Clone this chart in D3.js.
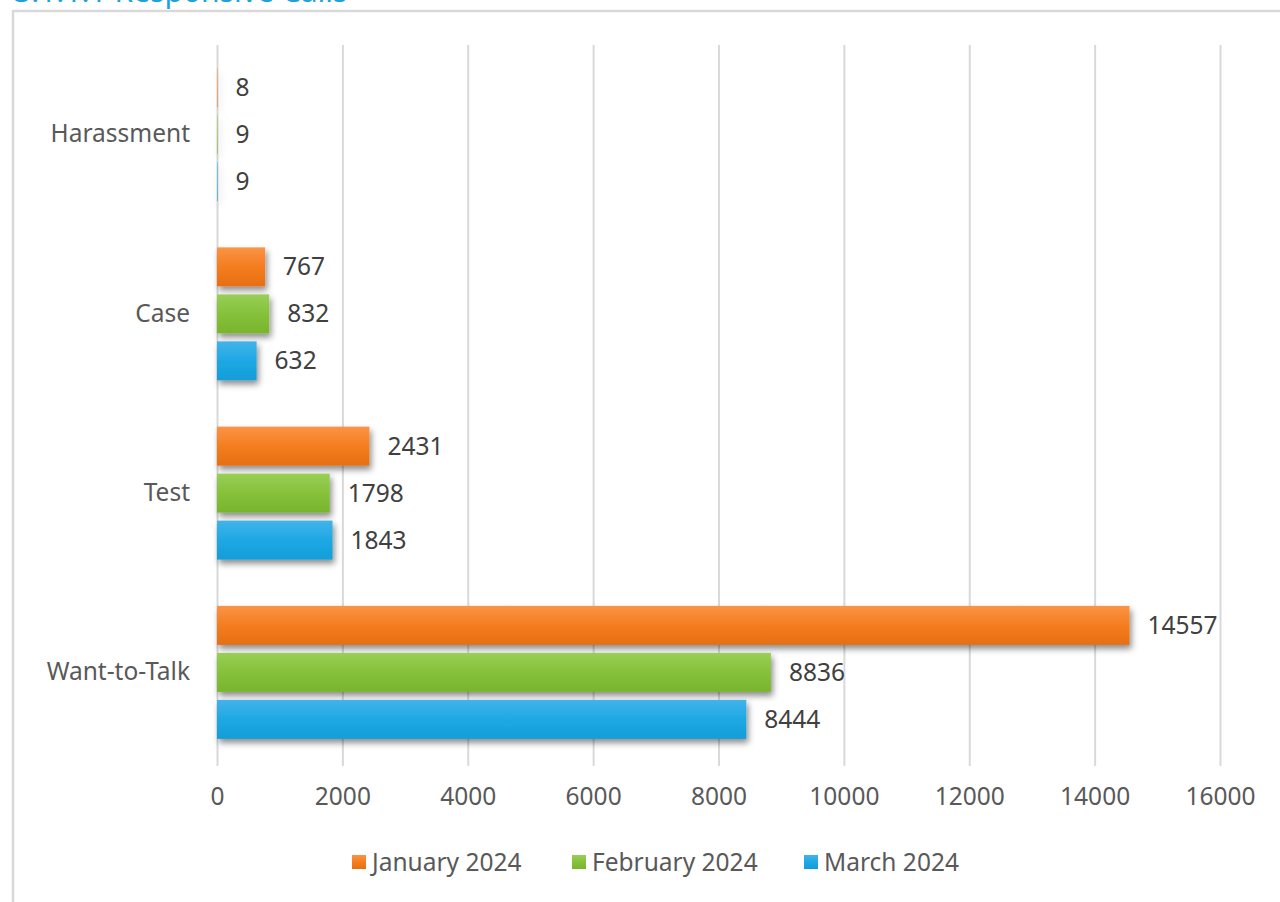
<!DOCTYPE html>
<html>
<head>
<meta charset="utf-8">
<script src="https://cdn.jsdelivr.net/npm/d3@7"></script>
<style>
  html, body { margin: 0; padding: 0; background: #fff; overflow: hidden; }
  svg { display: block; font-family: "Noto Sans", "Open Sans", sans-serif; }
</style>
</head>
<body>
<svg id="chart" width="1280" height="902"></svg>
<script>
// Responsive calls by type, per month
const categories = ["Harassment", "Case", "Test", "Want-to-Talk"];
const seriesNames = ["January 2024", "February 2024", "March 2024"];
const january2024 = [8, 767, 2431, 14557];
const february2024 = [9, 832, 1798, 8836];
const march2024 = [9, 632, 1843, 8444];
const xTicks = [0, 2000, 4000, 6000, 8000, 10000, 12000, 14000, 16000];

const seriesValues = [january2024, february2024, march2024];
const colors = [
  { top: "#fa9445", mid: "#f57d1f", bottom: "#e56f12" },
  { top: "#98cf56", mid: "#86c13b", bottom: "#78b42c" },
  { top: "#42b3ea", mid: "#1ea8e4", bottom: "#129dd8" }
];

const svg = d3.select("#chart");
const defs = svg.append("defs");

colors.forEach((c, i) => {
  const g = defs.append("linearGradient")
    .attr("id", "grad" + i).attr("x1", 0).attr("y1", 0).attr("x2", 0).attr("y2", 1);
  g.append("stop").attr("offset", "0%").attr("stop-color", c.top);
  g.append("stop").attr("offset", "50%").attr("stop-color", c.mid);
  g.append("stop").attr("offset", "100%").attr("stop-color", c.bottom);
});

// Drop shadow; region covers a whole category band (local coordinates)
const shadow = defs.append("filter").attr("id", "shadow")
  .attr("filterUnits", "userSpaceOnUse")
  .attr("x", 0).attr("y", -10).attr("width", 1300).attr("height", 210);
shadow.append("feDropShadow")
  .attr("dx", 2).attr("dy", 4).attr("stdDeviation", 3)
  .attr("flood-color", "#000").attr("flood-opacity", 0.45);

// Section heading, partly above the page edge
svg.append("text")
  .attr("x", 14).attr("y", 2)
  .attr("font-size", 30)
  .attr("fill", "#1aa3e0")
  .text("3.1.1.1 Responsive Calls");

// Chart frame
svg.append("rect")
  .attr("x", 13).attr("y", 11)
  .attr("width", 1300).attr("height", 920)
  .attr("fill", "#fff")
  .attr("stroke", "#d9d9d9").attr("stroke-width", 2.5);

const plot = { left: 217, right: 1220, top: 45, bottom: 762 };
const fontSize = 24.5;

const x = d3.scaleLinear().domain([0, 16000]).range([plot.left, plot.right]);
const y = d3.scaleBand().domain(categories).range([plot.top, plot.bottom]);
const inner = d3.scaleBand().domain(seriesNames)
  .range([y.bandwidth() / 2 - 66.5, y.bandwidth() / 2 + 66.5]).paddingInner(0.17);

// Vertical gridlines via axis ticks
const grid = svg.append("g")
  .attr("transform", `translate(0,${plot.bottom + 4})`)
  .call(d3.axisBottom(x).tickValues(xTicks).tickSize(0).tickFormat(""));
grid.select(".domain").remove();
grid.selectAll(".tick line")
  .attr("y2", -(plot.bottom + 4 - plot.top))
  .attr("stroke", "#d9d9d9").attr("stroke-width", 2);

// X tick labels
const xAxis = svg.append("g")
  .attr("transform", `translate(0,${plot.bottom + 4})`)
  .call(d3.axisBottom(x).tickValues(xTicks).tickSize(0).tickPadding(22).tickFormat(d3.format("d")));
xAxis.select(".domain").remove();
xAxis.selectAll("text")
  .attr("font-size", fontSize).attr("fill", "#595959")
  .attr("font-family", "'Noto Sans', 'Open Sans', sans-serif");

// Category labels
const yAxis = svg.append("g")
  .attr("transform", `translate(${plot.left},0)`)
  .call(d3.axisLeft(y).tickSize(0).tickPadding(27));
yAxis.select(".domain").remove();
yAxis.selectAll("text")
  .attr("font-size", fontSize).attr("fill", "#595959")
  .attr("font-family", "'Noto Sans', 'Open Sans', sans-serif");

// Bars and value labels
const groups = svg.append("g").selectAll("g")
  .data(categories)
  .join("g")
  .attr("transform", d => `translate(0,${y(d)})`);

seriesNames.forEach((name, si) => {
  groups.append("rect")
    .attr("x", x(0))
    .attr("y", inner(name))
    .attr("width", (d, ci) => x(seriesValues[si][ci]) - x(0))
    .attr("height", inner.bandwidth())
    .attr("fill", `url(#grad${si})`)
    .attr("filter", "url(#shadow)");

  groups.append("text")
    .attr("x", (d, ci) => x(seriesValues[si][ci]) + 18)
    .attr("y", inner(name) + inner.bandwidth() / 2)
    .attr("dy", "0.35em")
    .attr("font-size", fontSize).attr("fill", "#404040")
    .text((d, ci) => seriesValues[si][ci]);
});

// Legend
const legendItems = [
  { name: seriesNames[0], x: 352 },
  { name: seriesNames[1], x: 572 },
  { name: seriesNames[2], x: 804 }
];
const legend = svg.append("g").selectAll("g")
  .data(legendItems)
  .join("g")
  .attr("transform", d => `translate(${d.x},862)`);
legend.append("rect")
  .attr("x", 0).attr("y", -7).attr("width", 14).attr("height", 14)
  .attr("fill", (d, i) => `url(#grad${i})`);
legend.append("text")
  .attr("x", 20).attr("dy", "0.35em")
  .attr("font-size", fontSize).attr("fill", "#595959")
  .text(d => d.name);
</script>
</body>
</html>
